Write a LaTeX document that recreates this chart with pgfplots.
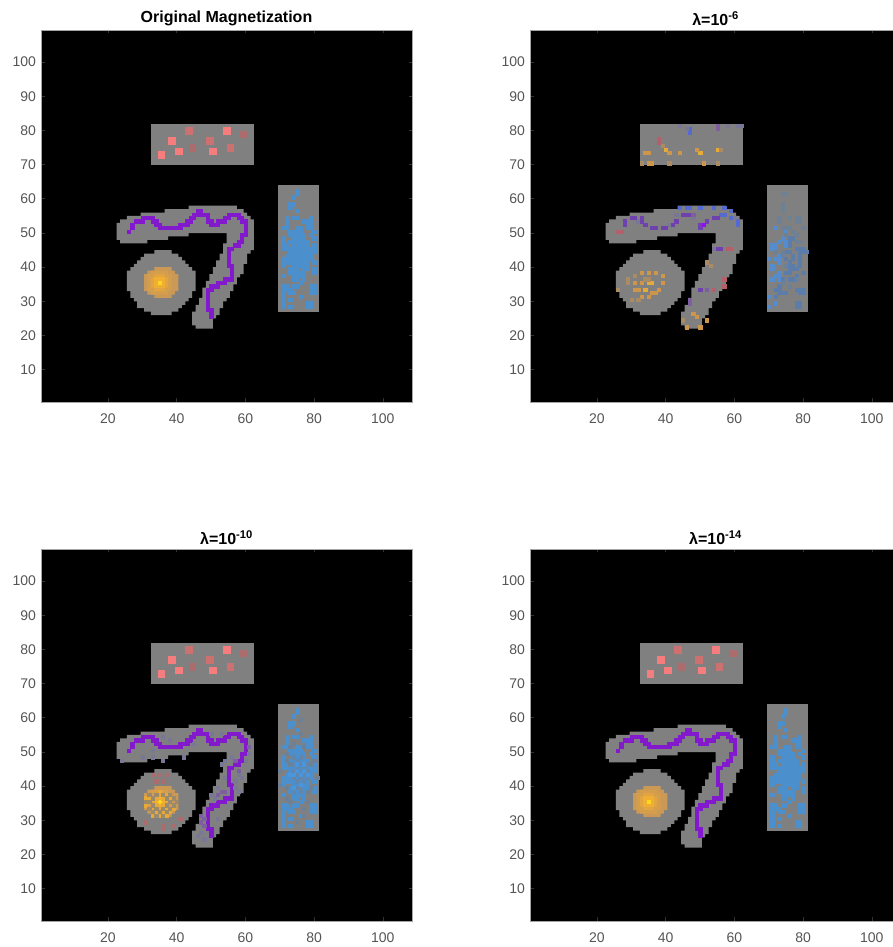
\documentclass[border=0pt]{standalone}
\usepackage{fontspec}
\setmainfont{Liberation Sans}
\usepackage{pgfplots}
\pgfplotsset{compat=1.18}

\definecolor{maskgray}{RGB}{128,128,128}
\definecolor{pur}{RGB}{130,25,205}
\definecolor{purb}{RGB}{150,10,250}
\definecolor{purm}{RGB}{110,65,175}
\definecolor{purd}{RGB}{125,95,160}
\definecolor{blu}{RGB}{76,143,205}
\definecolor{blub}{RGB}{72,150,222}
\definecolor{bluA}{RGB}{85,140,205}
\definecolor{bluB}{RGB}{92,125,170}
\definecolor{bluC}{RGB}{108,128,150}
\definecolor{bluD}{RGB}{98,133,172}
\definecolor{viob}{RGB}{85,105,210}
\definecolor{viod}{RGB}{120,120,150}
\definecolor{redA}{RGB}{245,125,125}
\definecolor{redB}{RGB}{205,112,112}
\definecolor{redC}{RGB}{170,108,108}
\definecolor{redD}{RGB}{180,95,105}
\definecolor{oraA}{RGB}{232,170,55}
\definecolor{oraB}{RGB}{205,150,75}
\definecolor{oraC}{RGB}{170,140,100}
\definecolor{chk}{RGB}{155,138,108}
\definecolor{disk0}{RGB}{203,153,86}
\definecolor{disk1}{RGB}{213,158,76}
\definecolor{disk2}{RGB}{225,165,65}
\definecolor{disk3}{RGB}{240,175,50}
\definecolor{disk4}{RGB}{255,215,30}
\definecolor{axisline}{RGB}{165,165,165}
\definecolor{ticktxt}{RGB}{85,85,85}

% one image pixel, 1 data unit wide
\newcommand{\px}[2]{\addplot[only marks, mark=square*, mark size=1.62pt, color=#1, mark options={solid, line width=0.2pt}] coordinates {#2};}
\newcommand{\poly}[2]{\addplot[fill=#1, draw=none] coordinates {#2};}

% tissue mask
\newcommand{\maskshapes}{%
\poly{maskgray}{(32.5,69.5)(62.5,69.5)(62.5,81.5)(32.5,81.5)}
\poly{maskgray}{(69.5,26.5)(81.5,26.5)(81.5,63.5)(69.5,63.5)}
\poly{maskgray}{(33.5,44.5)(38.5,44.5)(38.5,43.5)(40.5,43.5)(40.5,42.5)(41.5,42.5)(41.5,41.5)(42.5,41.5)(42.5,40.5)(43.5,40.5)(43.5,39.5)(44.5,39.5)(44.5,38.5)(45.5,38.5)(45.5,32.5)(44.5,32.5)(44.5,30.5)(43.5,30.5)(43.5,29.5)(42.5,29.5)(42.5,28.5)(41.5,28.5)(41.5,27.5)(40.5,27.5)(40.5,26.5)(38.5,26.5)(38.5,25.5)(32.5,25.5)(32.5,26.5)(30.5,26.5)(30.5,27.5)(28.5,27.5)(28.5,29.5)(27.5,29.5)(27.5,30.5)(26.5,30.5)(26.5,32.5)(25.5,32.5)(25.5,38.5)(26.5,38.5)(26.5,39.5)(27.5,39.5)(27.5,40.5)(28.5,40.5)(28.5,41.5)(29.5,41.5)(29.5,42.5)(30.5,42.5)(30.5,43.5)(33.5,43.5)}
\poly{maskgray}{(22.5,52.5)(23.5,52.5)(23.5,53.5)(25.5,53.5)(25.5,54.5)(29.5,54.5)(29.5,55.5)(36.5,55.5)(36.5,56.5)(43.5,56.5)(43.5,57.5)(57.5,57.5)(57.5,56.5)(59.5,56.5)(59.5,55.5)(60.5,55.5)(60.5,54.5)(61.5,54.5)(61.5,53.5)(62.5,53.5)(62.5,44.5)(61.5,44.5)(61.5,43.5)(60.5,43.5)(60.5,40.5)(59.5,40.5)(59.5,37.5)(58.5,37.5)(58.5,36.5)(57.5,36.5)(57.5,34.5)(56.5,34.5)(56.5,32.5)(55.5,32.5)(55.5,30.5)(54.5,30.5)(54.5,29.5)(53.5,29.5)(53.5,27.5)(52.5,27.5)(52.5,25.5)(51.5,25.5)(51.5,24.5)(50.5,24.5)(50.5,21.5)(45.5,21.5)(45.5,22.5)(44.5,22.5)(44.5,26.5)(45.5,26.5)(45.5,28.5)(46.5,28.5)(46.5,30.5)(47.5,30.5)(47.5,33.5)(48.5,33.5)(48.5,35.5)(49.5,35.5)(49.5,37.5)(50.5,37.5)(50.5,39.5)(51.5,39.5)(51.5,41.5)(52.5,41.5)(52.5,43.5)(53.5,43.5)(53.5,46.5)(54.5,46.5)(54.5,49.5)(43.5,49.5)(43.5,48.5)(37.5,48.5)(37.5,47.5)(31.5,47.5)(31.5,46.5)(23.5,46.5)(23.5,47.5)(22.5,47.5)}
}

% orange core of the disk, level by level
\newcommand{\diskcore}{%
\poly{disk0}{(30.5,32.5)(31.5,32.5)(31.5,31.5)(33.5,31.5)(33.5,30.5)(38.5,30.5)(38.5,31.5)(39.5,31.5)(39.5,32.5)(40.5,32.5)(40.5,37.5)(39.5,37.5)(39.5,38.5)(38.5,38.5)(38.5,39.5)(33.5,39.5)(33.5,38.5)(31.5,38.5)(31.5,37.5)(30.5,37.5)}
\poly{disk1}{(31.5,32.5)(32.5,32.5)(32.5,31.5)(37.5,31.5)(37.5,32.5)(38.5,32.5)(38.5,37.5)(37.5,37.5)(37.5,38.5)(32.5,38.5)(32.5,37.5)(31.5,37.5)}
\poly{disk2}{(32.5,33.5)(33.5,33.5)(33.5,32.5)(36.5,32.5)(36.5,33.5)(37.5,33.5)(37.5,36.5)(36.5,36.5)(36.5,37.5)(33.5,37.5)(33.5,36.5)(32.5,36.5)}
\poly{disk3}{(33.5,33.5)(36.5,33.5)(36.5,36.5)(33.5,36.5)}
\px{disk4}{(35,35)}
}

\newcommand{\purplepath}[1]{\px{#1}{(26,50)(27,51)(27,52)(28,53)(29,53)(30,53)(30,54)(31,54)(32,54)(33,54)(33,53)(34,53)(34,52)(35,52)(35,51)(36,51)(37,51)(38,51)(39,51)(40,51)(41,51)(41,52)(42,52)(43,52)(43,53)(44,53)(44,54)(45,54)(45,55)(46,55)(46,56)(47,56)(47,55)(48,55)(49,55)(49,54)(49,53)(50,53)(50,52)(51,52)(52,52)(52,53)(53,53)(54,53)(54,54)(55,54)(55,55)(56,55)(57,55)(58,55)(58,54)(59,54)(59,53)(60,53)(60,52)(60,51)(60,50)(60,49)(59,49)(59,48)(59,47)(58,47)(58,46)(57,46)(56,45)(55,45)(55,44)(55,43)(55,42)(55,41)(55,40)(56,40)(56,39)(56,38)(56,37)(56,36)(55,36)(54,36)(54,35)(53,35)(52,35)(52,34)(51,34)(50,34)(50,33)(49,33)(49,32)(49,31)(49,30)(49,29)(49,28)(49,27)(50,27)(50,26)(50,25)}}

\newcommand{\redsquares}{%
\px{redA}{(54,79)(55,79)(54,80)(55,80)(38,76)(39,76)(38,77)(39,77)(35,72)(36,72)(35,73)(36,73)(40,73)(41,73)(40,74)(41,74)(50,73)(51,73)(50,74)(51,74)}
\px{redB}{(43,79)(44,79)(43,80)(44,80)(49,76)(50,76)(49,77)(50,77)(55,74)(56,74)(55,75)(56,75)}
\px{redC}{(59,78)(60,78)(59,79)(60,79)(44,74)(45,74)(44,75)(45,75)}
}

\newcommand{\bluecloud}[1]{\px{#1}{(75,62)(75,61)(74,60)(73,58)(74,58)(73,57)(75,56)(72,54)(74,54)(75,54)(79,54)(72,53)(77,53)(78,53)(79,53)(72,52)(78,52)(79,52)(71,51)(72,51)(75,51)(76,51)(78,51)(79,51)(73,50)(74,50)(75,50)(76,50)(80,50)(73,49)(74,49)(75,49)(76,49)(77,49)(79,49)(71,48)(74,48)(75,48)(76,48)(77,48)(80,48)(71,47)(73,47)(74,47)(75,47)(76,47)(77,47)(78,47)(71,46)(72,46)(74,46)(75,46)(76,46)(77,46)(78,46)(80,46)(71,45)(72,45)(73,45)(74,45)(75,45)(76,45)(77,45)(78,45)(79,45)(80,45)(73,44)(74,44)(75,44)(76,44)(77,44)(78,44)(79,44)(80,44)(72,43)(73,43)(74,43)(75,43)(76,43)(77,43)(78,43)(79,43)(71,42)(72,42)(73,42)(74,42)(75,42)(76,42)(77,42)(78,42)(79,42)(71,41)(72,41)(73,41)(74,41)(75,41)(76,41)(77,41)(78,41)(80,41)(71,40)(74,40)(75,40)(76,40)(77,40)(78,40)(73,39)(74,39)(75,39)(77,39)(78,39)(80,39)(73,38)(74,38)(75,38)(76,38)(77,38)(80,38)(71,37)(74,37)(75,37)(76,37)(77,37)(74,36)(75,36)(77,36)(76,35)(71,34)(72,34)(74,34)(75,34)(79,34)(80,34)(71,33)(72,33)(73,33)(79,33)(80,33)(71,32)(73,32)(74,32)(79,32)(80,32)(71,31)(76,31)(71,30)(73,30)(71,29)(78,29)(79,29)(71,28)(73,28)(78,28)(79,28)}}

% lambda = 1e-6: the speckled reconstruction
\newcommand{\speckle}{%
\px{viob}{(44,57)(46,57)(47,57)(50,57)(54,57)(57,57)(59,56)(56,55)(57,55)(59,54)(61,53)(61,52)(47,80)(47,79)}
\px{viod}{(44,81)(58,81)(61,81)(62,81)(46,80)(43,55)(48,54)(60,54)(32,53)(41,52)(54,45)}
\px{purm}{(45,55)(46,55)(47,55)(30,54)(31,54)(33,54)(54,54)(55,54)(28,53)(33,53)(43,53)(52,53)(28,52)(34,52)(42,52)(50,52)(36,51)(37,51)(39,51)(40,51)(50,51)(50,33)(55,45)(56,45)}
\px{purb}{(51,52)}
\px{redD}{(38,77)(38,76)(26,50)(27,50)(58,45)(59,45)(57,34)(54,33)(57,36)}
\px{purd}{(52,33)(55,81)(55,80)(48,55)(47,30)(47,29)}
\px{oraA}{(40,74)(50,73)(55,74)(35,35)(36,35)(34,33)}
\px{oraB}{(41,73)(44,73)(49,74)(34,73)(35,73)(35,70)(36,70)(51,70)(33,38)(35,38)(37,38)(39,37)(33,35)(31,35)(39,35)(31,33)(32,33)(36,32)(38,33)(33,31)(35,31)(37,32)(48,26)(49,25)(52,24)(46,22)(50,22)}
\px{oraC}{(33,70)(41,70)(55,70)(56,74)(39,75)(52,41)(53,40)(31,37)(34,36)(35,36)(29,36)(29,35)(26,33)(30,30)(32,30)(45,24)}
\px{bluA}{(71,46)(71,45)(72,46)(72,45)(73,43)(72,42)(73,42)(73,41)(71,40)(71,39)(73,38)(72,37)(73,37)(73,36)(70,31)(72,29)(70,28)(73,47)(75,47)(75,46)(74,48)(72,51)(75,50)(71,36)(70,42)}
\px{bluB}{(75,44)(76,44)(77,43)(77,42)(78,45)(79,45)(79,44)(79,43)(80,45)(80,44)(81,44)(76,46)(76,47)(76,48)(77,48)(75,42)(76,41)(76,40)(77,40)(77,39)(76,39)(78,39)(79,40)(79,41)(79,42)(76,38)(75,38)(74,36)(80,38)(78,37)(77,36)(76,36)(78,33)(79,33)(80,33)(80,32)(79,32)(78,28)(79,28)(78,29)(79,29)(74,32)(75,32)(72,33)(73,33)(73,34)(73,32)(72,31)}
\px{bluC}{(74,61)(75,61)(74,58)(74,57)(74,56)(73,54)(73,53)(76,54)(78,54)(79,54)(79,53)(78,53)(74,51)(75,51)(76,51)(75,49)(80,51)(77,50)(78,49)(78,47)(79,47)(74,44)(74,43)(75,40)(72,44)(74,35)(76,34)(78,36)}
}

% lambda = 1e-10: the ghosts and the checkering
\newcommand{\ghosts}{%
\px{viod}{(24,47)(30,48)(33,48)(36,47)(42,48)(53,46)(54,47)(56,48)(58,43)(59,42)(57,39)(57,41)(54,42)(52,39)(51,36)(50,37)(58,38)(52,30)(48,24)(47,26)(46,25)(53,55)(50,55)(45,52)(38,53)(33,50)(36,54)(60,47)(61,49)}
\px{purd}{(48,30)(47,29)(48,28)(47,31)(52,37)(53,38)(54,38)(58,44)(57,47)(61,51)}
\px{redC}{(33,43)(35,43)(37,43)(36,41)(34,41)(31,29)(36,28)(39,28)(36,27)(41,30)}
\px{oraA}{(31,36)(32,36)(35,38)(37,37)(34,36)(36,36)(38,36)(31,34)(33,33)(35,33)(37,33)(34,32)(36,32)(38,32)(33,31)(35,31)(37,31)(39,33)(34,34)(36,34)(33,35)(37,35)}
\px{chk}{(32,37)(34,37)(36,37)(38,37)(33,36)(37,36)(39,36)(32,35)(38,35)(33,34)(37,34)(39,34)(32,33)(34,33)(36,33)(38,33)(33,32)(35,32)(37,32)(34,31)(36,31)(40,35)(31,35)}
\px{bluC}{(76,55)(74,52)(73,51)(77,51)(72,47)(80,47)(70,44)(73,46)(79,46)(81,42)(70,40)(72,39)(79,39)(72,36)(73,35)(78,35)(77,31)(75,29)(77,33)(76,59)(72,49)(78,38)}
\px{bluD}{(74,46)(76,46)(78,46)(75,45)(77,45)(74,44)(76,44)(78,44)(75,43)(77,43)(74,42)(76,42)(78,42)(75,41)(77,41)(74,48)(76,48)(75,47)(75,39)(74,38)(76,38)}
\px{blub}{(75,44)(76,43)(74,43)(77,44)(75,46)(73,43)(78,43)(76,40)(74,39)(77,46)}
}

\pgfplotsset{
  magpanel/.style={
    at={(#1)}, anchor=south west,
    scale only axis, width=371pt, height=372pt,
    xmin=0.5, xmax=108.5, ymin=0.5, ymax=109.4,
    y filter/.expression={y+0.45},
    axis background/.style={fill=black},
    axis on top,
    xtick={20,40,...,100},
    ytick={10,20,...,100},
    tick align=inside,
    major tick length=3.5pt,
    tick style={draw=black!80!white, line width=0.5pt},
    axis line style={draw=axisline, line width=0.9pt},
    tick label style={font=\fontsize{14}{15}\selectfont, text=ticktxt, /pgf/number format/assume math mode=true},
    xticklabel style={yshift=-8.5pt},
    yticklabel style={xshift=-1.5pt},
    title style={font=\fontsize{16}{17}\selectfont\bfseries, text=black, yshift=-5pt},
  },
}

\begin{document}
\begin{tikzpicture}[x=1pt, y=1pt]
\path[use as bounding box] (0,0) rectangle (893,947);

\begin{axis}[magpanel={41pt,545pt}, title={Original Magnetization}]
\maskshapes \diskcore \redsquares \purplepath{pur} \bluecloud{blu}
\end{axis}

\begin{axis}[magpanel={530pt,545pt}, title={λ=10\textsuperscript{-6}}]
\maskshapes \speckle
\end{axis}

\begin{axis}[magpanel={41pt,26pt}, title={λ=10\textsuperscript{-10}}]
\maskshapes \diskcore \redsquares \purplepath{pur} \bluecloud{blu} \ghosts
\end{axis}

\begin{axis}[magpanel={530pt,26pt}, title={λ=10\textsuperscript{-14}}]
\maskshapes \diskcore \redsquares \purplepath{pur} \bluecloud{blu}
\end{axis}
\end{tikzpicture}
\end{document}
